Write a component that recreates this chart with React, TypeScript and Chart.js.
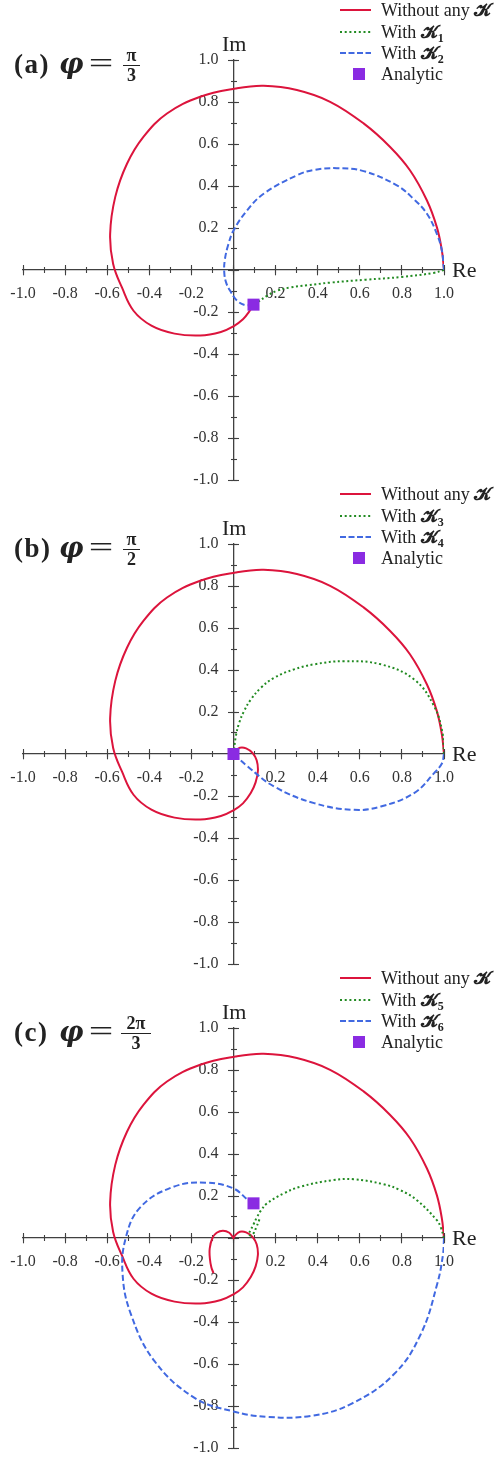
import React, { useEffect, useRef } from 'react';
import { Chart, registerables } from 'chart.js';

Chart.register(...registerables);

type P = [number, number];

// ---------- data ----------
const AXIS_MIN = -1;
const AXIS_MAX = 1;
const MAJOR_STEP = 0.2;
const MINOR_STEP = 0.1;

// common outer spiral of "Without any K" (counter-clockwise from 1+0i)
const redOuter: P[] = [
  [1.0, 0.0], [0.99, 0.092], [0.966, 0.204], [0.919, 0.331], [0.839, 0.474],
  [0.744, 0.586], [0.618, 0.698], [0.459, 0.801], [0.301, 0.857], [0.143, 0.877],
  [0.01, 0.864], [-0.158, 0.825], [-0.316, 0.745], [-0.428, 0.634], [-0.506, 0.506],
  [-0.562, 0.347], [-0.586, 0.172], [-0.572, 0.03], [-0.53, -0.083], [-0.475, -0.194],
  [-0.39, -0.265], [-0.28, -0.303], [-0.158, -0.312], [-0.06, -0.295], [0.0, -0.268],
];
const redTailA: P[] = [[0.045, -0.235], [0.075, -0.197], [0.095, -0.165]];
const redTailB: P[] = [
  [0.045, -0.235], [0.082, -0.186], [0.105, -0.135], [0.116, -0.08], [0.11, -0.03],
  [0.09, 0.005], [0.06, 0.027], [0.03, 0.03], [0.01, 0.015], [0.0, 0.0],
];
const redTailC: P[] = [
  [0.0, 0.0], [-0.02, 0.025], [-0.05, 0.035], [-0.08, 0.025], [-0.1, 0.0],
  [-0.113, -0.05], [-0.112, -0.1], [-0.105, -0.14], [-0.095, -0.167],
];

const greenA: P[] = [
  [1.0, 0.0], [0.95, -0.014], [0.8, -0.033], [0.63, -0.046], [0.46, -0.06],
  [0.35, -0.073], [0.27, -0.083], [0.206, -0.099], [0.159, -0.123], [0.119, -0.15], [0.095, -0.165],
];
const blueA: P[] = [
  [1.0, 0.0], [0.99, 0.092], [0.966, 0.172], [0.919, 0.268], [0.855, 0.339],
  [0.776, 0.403], [0.618, 0.471], [0.491, 0.485], [0.38, 0.476], [0.301, 0.451],
  [0.143, 0.363], [0.064, 0.283], [0.0, 0.188], [-0.025, 0.12], [-0.041, 0.05],
  [-0.044, -0.01], [-0.035, -0.06], [-0.016, -0.099], [0.016, -0.145], [0.055, -0.167], [0.095, -0.165],
];

const greenB: P[] = [
  [1.0, 0.0], [0.993, 0.1], [0.953, 0.228], [0.858, 0.355], [0.7, 0.427],
  [0.525, 0.442], [0.383, 0.427], [0.288, 0.403], [0.193, 0.363], [0.13, 0.315],
  [0.082, 0.259], [0.05, 0.204], [0.027, 0.148], [0.011, 0.084], [0.0, 0.0],
];
const blueB: P[] = [
  [1.0, 0.0], [0.99, -0.045], [0.953, -0.091], [0.858, -0.186], [0.7, -0.25],
  [0.573, -0.266], [0.383, -0.234], [0.193, -0.155], [0.067, -0.059], [0.0, 0.0],
];

const greenC: P[] = [
  [1.0, 0.0], [0.985, 0.05], [0.966, 0.085], [0.871, 0.18], [0.792, 0.228],
  [0.713, 0.256], [0.57, 0.28], [0.475, 0.276], [0.317, 0.244], [0.238, 0.212],
  [0.158, 0.164], [0.13, 0.13], [0.112, 0.1], [0.095, 0.065], [0.08, 0.035],
  [0.072, 0.018], [0.082, 0.012], [0.095, 0.022], [0.108, 0.05], [0.12, 0.08], [0.126, 0.098],
];
const blueC: P[] = [
  [1.0, 0.0], [0.995, -0.08], [0.968, -0.218], [0.89, -0.457], [0.763, -0.648],
  [0.557, -0.791], [0.367, -0.847], [0.162, -0.852], [0.0, -0.826], [-0.187, -0.76],
  [-0.377, -0.584], [-0.488, -0.361], [-0.527, -0.17], [-0.512, 0.0], [-0.443, 0.146],
  [-0.285, 0.244], [-0.126, 0.263], [0.0, 0.236], [0.07, 0.18], [0.095, 0.165],
];

const analyticA: P[] = [[0.095, -0.165]];
const analyticB: P[] = [[0.0, 0.0]];
const analyticC: P[] = [[0.095, 0.165]];

const panelTags = ['(a)', '(b)', '(c)'];
const phiNumerators = ['π', 'π', '2π'];
const phiDenominators = ['3', '2', '3'];
const greenSubscripts = ['1', '3', '5'];
const blueSubscripts = ['2', '4', '6'];

const redCurves: P[][] = [
  [...redOuter, ...redTailA],
  [...redOuter, ...redTailB],
  [...redOuter, ...redTailB, ...redTailC],
];
const greenCurves: P[][] = [greenA, greenB, greenC];
const blueCurves: P[][] = [blueA, blueB, blueC];
const analyticPoints: P[][] = [analyticA, analyticB, analyticC];

// ---------- styling ----------
const RED = '#DC143C';
const GREEN = '#228B22';
const BLUE = '#4169E1';
const PURPLE = '#8A2BE2';
const AXIS_COLOR = '#404040';
const SERIF = '"Liberation Serif", "DejaVu Serif", serif';
const W = 497;
const PANEL_STEP = 484;
const CANVAS_H = 494;
const Y_LABEL_GAP = -0.0713; // where the y tick labels end (in x units)

const toXY = (pts: P[]) => pts.map(([x, y]) => ({ x, y }));
const fmt = (v: number) => (Math.abs(v) < 1e-9 ? '' : Number(v).toFixed(1));

function makeAxis(
  kind: 'x' | 'y',
  step: number,
  len: number,
  opts: { labels?: boolean; border?: boolean; grid?: boolean; at?: number } = {},
) {
  const at = opts.at ?? 0;
  return {
    type: 'linear' as const,
    axis: kind,
    min: AXIS_MIN,
    max: AXIS_MAX,
    position: kind === 'x' ? { y: at } : { x: at },
    ticks: {
      display: !!opts.labels,
      stepSize: step,
      autoSkip: false,
      maxRotation: 0,
      padding: kind === 'x' ? 9 : 0,
      color: '#333',
      font: { family: SERIF, size: 16 },
      callback: (v: any) => fmt(Number(v)),
    },
    grid: {
      display: opts.grid !== false,
      drawOnChartArea: false,
      drawTicks: true,
      tickLength: len,
      tickColor: AXIS_COLOR,
      tickWidth: 1.1,
    },
    border: { display: !!opts.border, color: AXIS_COLOR, width: 1.3 },
  };
}

function buildConfig(i: number): any {
  const line = (label: string, pts: P[], color: string, dash: number[], order: number) => ({
    label,
    data: toXY(pts),
    showLine: true,
    borderColor: color,
    backgroundColor: color,
    borderWidth: 2,
    borderDash: dash,
    pointRadius: 0,
    pointHoverRadius: 0,
    tension: 0.4,
    fill: false,
    order,
  });
  return {
    type: 'scatter',
    data: {
      datasets: [
        {
          label: 'Analytic',
          data: toXY(analyticPoints[i]),
          showLine: false,
          pointStyle: 'rect',
          pointRadius: 8.5,
          pointBorderWidth: 0,
          pointBackgroundColor: PURPLE,
          pointBorderColor: PURPLE,
          order: 0,
        },
        line('With K' + blueSubscripts[i], blueCurves[i], BLUE, [6, 3], 1),
        line('With K' + greenSubscripts[i], greenCurves[i], GREEN, [2, 2.6], 2),
        line('Without any K', redCurves[i], RED, [], 3),
      ],
    },
    options: {
      animation: false,
      responsive: false,
      devicePixelRatio: 1,
      layout: { autoPadding: false, padding: { left: 23, right: 53, top: 60, bottom: 14 } },
      plugins: { legend: { display: false }, tooltip: { enabled: false }, title: { display: false } },
      events: [],
      scales: {
        x: makeAxis('x', MAJOR_STEP, 5, { labels: true, border: true }),
        y: makeAxis('y', MAJOR_STEP, 5, { border: true }),
        yLabels: makeAxis('y', MAJOR_STEP, 0, { labels: true, grid: false, at: Y_LABEL_GAP }),
        xMajIn: makeAxis('x', MAJOR_STEP, -5),
        yMajIn: makeAxis('y', MAJOR_STEP, -5),
        xMinOut: makeAxis('x', MINOR_STEP, 3),
        yMinOut: makeAxis('y', MINOR_STEP, 3),
        xMinIn: makeAxis('x', MINOR_STEP, -3),
        yMinIn: makeAxis('y', MINOR_STEP, -3),
      },
    },
  };
}

const K = () => (
  <span style={{ fontFamily: '"DejaVu Serif", "DejaVu Sans", serif', fontWeight: 'bold' }}>𝓚</span>
);

function LegendRow({ y, kind, color, children }: { y: number; kind: string; color: string; children: any }) {
  return (
    <>
      <svg width={32} height={12} style={{ position: 'absolute', left: 340, top: y - 6 }}>
        {kind === 'square' ? (
          <rect x={13} y={0} width={12} height={12} fill={color} />
        ) : (
          <line
            x1={0}
            y1={6}
            x2={31}
            y2={6}
            stroke={color}
            strokeWidth={2}
            strokeDasharray={kind === 'dash' ? '6 2.5' : kind === 'dot' ? '2 2.7' : undefined}
          />
        )}
      </svg>
      <div
        style={{
          position: 'absolute',
          left: 381,
          top: y - 11,
          height: 22,
          lineHeight: '22px',
          fontSize: 18,
          whiteSpace: 'nowrap',
          color: '#222',
        }}
      >
        {children}
      </div>
    </>
  );
}

function Panel({ index }: { index: number }) {
  const ref = useRef<HTMLCanvasElement | null>(null);
  useEffect(() => {
    const chart = new Chart(ref.current as HTMLCanvasElement, buildConfig(index));
    return () => chart.destroy();
  }, [index]);
  const sub = (s: string) => (
    <sub style={{ fontSize: 12, fontWeight: 'bold', verticalAlign: 'baseline', position: 'relative', top: 4 }}>{s}</sub>
  );
  const wide = index === 2;
  return (
    <div style={{ position: 'absolute', left: 0, top: index * PANEL_STEP, width: W, height: CANVAS_H, fontFamily: SERIF, color: '#222' }}>
      <canvas ref={ref} width={W} height={CANVAS_H} style={{ position: 'absolute', left: 0, top: 0, width: W, height: CANVAS_H }} />
      {/* panel title */}
      <div style={{ position: 'absolute', left: 14, top: 49, fontSize: 27, fontWeight: 'bold', lineHeight: '30px', letterSpacing: 1.5 }}>
        {panelTags[index]}
      </div>
      <div style={{ position: 'absolute', left: 59, top: 49, fontSize: 27, fontWeight: 'bold', fontStyle: 'italic', lineHeight: '30px', fontFamily: '"DejaVu Serif", serif' }}>
        φ
      </div>
      <div style={{ position: 'absolute', left: 88, top: 48, fontSize: 30, lineHeight: '30px', width: 26, textAlign: 'center', transform: 'scaleX(1.45)' }}>=</div>
      <div style={{ position: 'absolute', left: wide ? 121 : 123, top: 47, width: wide ? 30 : 17, textAlign: 'center', fontWeight: 'bold', fontSize: 18, lineHeight: '17px' }}>
        <div>{phiNumerators[index]}</div>
        <div style={{ borderTop: '1px solid #222', marginTop: 1, paddingTop: 1 }}>{phiDenominators[index]}</div>
      </div>
      {/* axis names */}
      <div style={{ position: 'absolute', left: 222, top: 31, fontSize: 22, lineHeight: '26px' }}>Im</div>
      <div style={{ position: 'absolute', left: 452, top: 257, fontSize: 22, lineHeight: '26px' }}>Re</div>
      {/* legend */}
      <LegendRow y={10} kind="solid" color={RED}>
        Without any <K />
      </LegendRow>
      <LegendRow y={31.5} kind="dot" color={GREEN}>
        With <K />
        {sub(greenSubscripts[index])}
      </LegendRow>
      <LegendRow y={52.5} kind="dash" color={BLUE}>
        With <K />
        {sub(blueSubscripts[index])}
      </LegendRow>
      <LegendRow y={74} kind="square" color={PURPLE}>
        Analytic
      </LegendRow>
    </div>
  );
}

export default function App() {
  return (
    <div style={{ position: 'absolute', left: 0, top: 0, width: W, height: 1459, background: '#fff', overflow: 'hidden' }}>
      {[0, 1, 2].map((i) => (
        <Panel key={i} index={i} />
      ))}
    </div>
  );
}
